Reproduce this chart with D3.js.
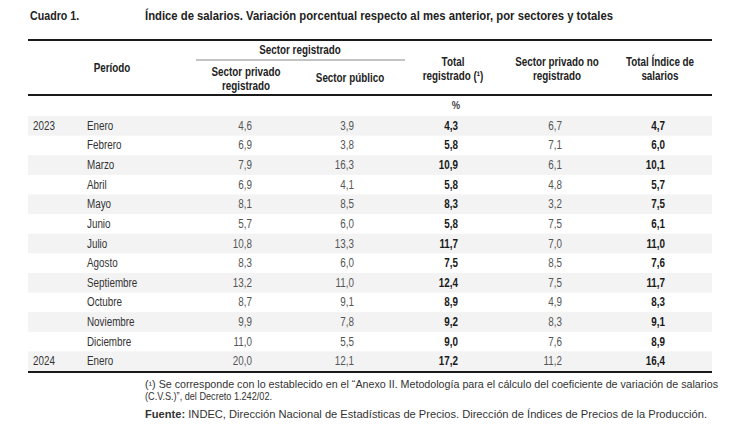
<!DOCTYPE html>
<html><head><meta charset="utf-8">
<script src="https://cdn.jsdelivr.net/npm/d3@7"></script>
<style>
html,body{margin:0;padding:0;background:#fff;}
svg{display:block;}
.narrow{font-family:"Liberation Sans",Arial,sans-serif;}
.reg{font-family:"Liberation Sans",Arial,sans-serif;}
</style></head>
<body>
<script>
const years = ["2023","","","","","","","","","","","","2024"];
const months = ["Enero","Febrero","Marzo","Abril","Mayo","Junio","Julio","Agosto","Septiembre","Octubre","Noviembre","Diciembre","Enero"];
const privadoRegistrado = [4.6,6.9,7.9,6.9,8.1,5.7,10.8,8.3,13.2,8.7,9.9,11.0,20.0];
const sectorPublico = [3.9,3.8,16.3,4.1,8.5,6.0,13.3,6.0,11.0,9.1,7.8,5.5,12.1];
const totalRegistrado = [4.3,5.8,10.9,5.8,8.3,5.8,11.7,7.5,12.4,8.9,9.2,9.0,17.2];
const privadoNoRegistrado = [6.7,7.1,6.1,4.8,3.2,7.5,7.0,8.5,7.5,4.9,8.3,7.6,11.2];
const totalIndice = [4.7,6.0,10.1,5.7,7.5,6.1,11.0,7.6,11.7,8.3,9.1,8.9,16.4];

const W = 745, H = 441;
const svg = d3.select("body").append("svg").attr("width", W).attr("height", H);

const left = 28, right = 712;
const fmt = v => d3.format(".1f")(v).replace(".", ",");

// Title
svg.append("text").attr("class","narrow").attr("x",30).attr("y",20)
  .attr("font-size",13).attr("font-weight","bold").attr("fill","#222").text("Cuadro 1.");
svg.append("text").attr("class","narrow fixed").attr("x",145).attr("y",20)
  .attr("font-size",13).attr("font-weight","bold").attr("fill","#222")
  .attr("textLength",468).attr("lengthAdjust","spacingAndGlyphs")
  .text("Índice de salarios. Variación porcentual respecto al mes anterior, por sectores y totales");

// rows
const y = d3.scaleBand().domain(d3.range(months.length)).range([116, 371]).padding(0);

svg.append("g").selectAll("rect").data(d3.range(months.length).filter(i => i % 2 === 0))
  .join("rect").attr("x", left).attr("width", right - left)
  .attr("y", i => y(i)).attr("height", y.bandwidth()).attr("fill", "#f3f3f4");

// lines
const line = (y0, w, x0, x1, c) => svg.append("line").attr("x1",x0).attr("x2",x1)
  .attr("y1",y0).attr("y2",y0).attr("stroke",c).attr("stroke-width",w);
line(40, 2.2, left, right, "#1a1a1a");
line(95, 2, left, right, "#1a1a1a");
line(372, 2, left, right, "#1a1a1a");
line(60, 1, 196, 405, "#888");

// headers
const hdr = (x, ys, lines) => {
  lines.forEach((s, i) => svg.append("text").attr("class","narrow").attr("font-size",12)
    .attr("font-weight","bold").attr("fill","#222").attr("text-anchor","middle")
    .attr("x", x).attr("y", ys[i]).text(s));
};
hdr(112, [72], ["Período"]);
hdr(300, [54], ["Sector registrado"]);
hdr(246, [76, 90], ["Sector privado", "registrado"]);
hdr(350, [82], ["Sector público"]);
hdr(453, [66, 80], ["Total", "registrado (¹)"]);
hdr(557, [66, 80], ["Sector privado no", "registrado"]);
hdr(660, [66, 80], ["Total Índice de", "salarios"]);

svg.append("text").attr("class","narrow").attr("x",456).attr("y",109).attr("font-size",11.5)
  .attr("font-weight","bold").attr("fill","#444").attr("text-anchor","middle").text("%");

// body
const cols = [
  {data: privadoRegistrado, x: 252, bold: false},
  {data: sectorPublico, x: 354, bold: false},
  {data: totalRegistrado, x: 458, bold: true},
  {data: privadoNoRegistrado, x: 562, bold: false},
  {data: totalIndice, x: 665, bold: true}
];
const body = svg.append("g");
const rowY = i => y(i) + y.bandwidth() / 2 + 4;
body.selectAll("text.yr").data(years).join("text").attr("class","yr narrow").attr("font-size",12)
  .attr("x",33).attr("y",(d,i)=>rowY(i)).attr("fill","#333").text(d=>d);
body.selectAll("text.mo").data(months).join("text").attr("class","mo narrow").attr("font-size",12)
  .attr("x",87).attr("y",(d,i)=>rowY(i)).attr("fill","#333").text(d=>d);
cols.forEach((c, ci) => {
  body.selectAll("text.c"+ci).data(c.data).join("text").attr("class","narrow c"+ci)
    .attr("font-size",12)
    .attr("x", c.x).attr("y", (d,i)=>rowY(i)).attr("text-anchor","end")
    .attr("font-weight", c.bold ? "bold" : "normal")
    .attr("fill", c.bold ? "#1a1a1a" : "#555").text(d => fmt(d));
});

// condense "narrow" texts (imitating a narrow typeface)
svg.selectAll("text.narrow").each(function() {
  if (this.classList.contains("fixed")) return;
  const len = this.getComputedTextLength();
  if (len > 0) d3.select(this).attr("textLength", len * 0.82).attr("lengthAdjust", "spacingAndGlyphs");
});

// footnotes
const fn = svg.append("g").attr("class","reg").attr("font-size",10.2).attr("fill","#333");
fn.append("text").attr("x",145).attr("y",388)
  .attr("textLength",573).attr("lengthAdjust","spacingAndGlyphs")
  .text("(¹) Se corresponde con lo establecido en el “Anexo II. Metodología para el cálculo del coeficiente de variación de salarios");
fn.append("text").attr("x",145).attr("y",400)
  .attr("textLength",127).attr("lengthAdjust","spacingAndGlyphs")
  .text("(C.V.S.)”, del Decreto 1.242/02.");
const f2 = fn.append("text").attr("x",145).attr("y",418)
  .attr("textLength",562).attr("lengthAdjust","spacingAndGlyphs");
f2.append("tspan").attr("font-weight","bold").text("Fuente:");
f2.append("tspan").text(" INDEC, Dirección Nacional de Estadísticas de Precios. Dirección de Índices de Precios de la Producción.");
</script>
</body></html>
